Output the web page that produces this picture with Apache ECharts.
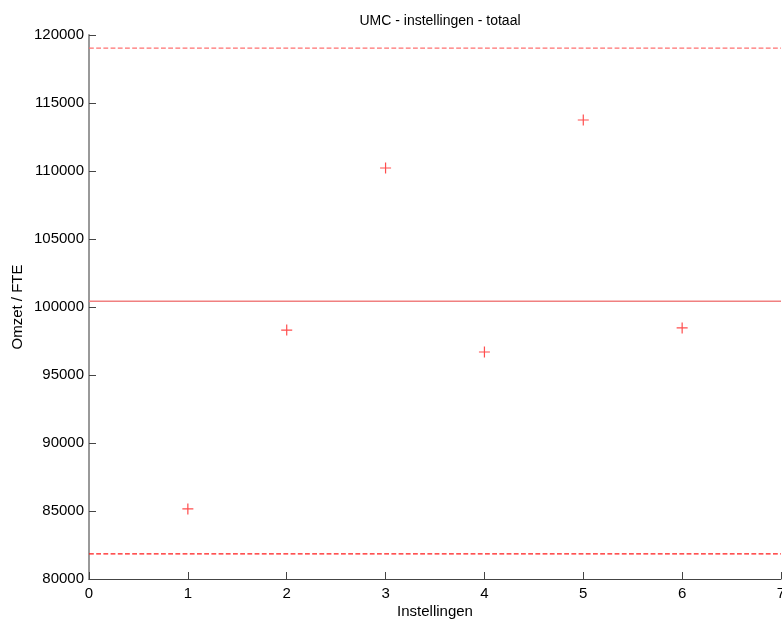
<!DOCTYPE html>
<html>
<head>
<meta charset="utf-8">
<script src="https://cdn.jsdelivr.net/npm/echarts@6/dist/echarts.min.js"></script>
<style>
html,body{margin:0;padding:0;background:#fff;}
#main{width:782px;height:620px;}
</style>
</head>
<body>
<div id="main"></div>
<script>
const instellingen = [1, 2, 3, 4, 5, 6];
const omzetPerFte = [85150, 98300, 110220, 96690, 113750, 98460];
const gemiddelde = 100430;
const bovengrens = 119040;
const ondergrens = 81850;
const xRange = [0, 7];

const plus = 'path://M0,5L10,5M5,0L5,10';

const points = instellingen.map((x, i) => [x, omzetPerFte[i]]);

function hline(v, color, type, width) {
    return {
        type: 'line',
        data: xRange.map(x => [x, v]),
        symbol: 'none',
        silent: true,
        lineStyle: { color: color, width: width, type: type },
        z: 1
    };
}

const chart = echarts.init(document.getElementById('main'));
chart.setOption({
    animation: false,
    textStyle: { fontFamily: 'Liberation Sans, Arial, sans-serif' },
    title: {
        text: 'UMC - instellingen - totaal',
        left: 435,
        textAlign: 'center',
        top: 9,
        textStyle: { fontSize: 14, fontWeight: 'normal', color: '#000' }
    },
    grid: { left: 89, right: 1, top: 35, bottom: 41, containLabel: false, outerBoundsMode: 'none' },
    xAxis: {
        type: 'value',
        min: 0, max: 7, interval: 1,
        name: 'Instellingen',
        nameLocation: 'middle',
        nameGap: 25,
        nameMoveOverlap: false,
        nameTextStyle: { fontSize: 15, color: '#000' },
        axisLine: { lineStyle: { color: '#444', width: 1 } },
        axisTick: { inside: true, length: 7, lineStyle: { color: '#444' } },
        axisLabel: { fontSize: 15, color: '#000', margin: 7 },
        splitLine: { show: false }
    },
    yAxis: {
        type: 'value',
        min: 80000, max: 120000, interval: 5000,
        name: 'Omzet / FTE',
        nameLocation: 'middle',
        nameGap: 64,
        nameMoveOverlap: false,
        nameTextStyle: { fontSize: 15, color: '#000' },
        axisLine: { show: true, lineStyle: { color: '#999', width: 2 } },
        axisTick: { inside: true, length: 7, lineStyle: { color: '#444' } },
        axisLabel: { fontSize: 15, color: '#000', margin: 5, formatter: v => String(v) },
        splitLine: { show: false }
    },
    series: [
        hline(bovengrens, '#ff7070', 'dashed', 1.2),
        hline(gemiddelde, '#f08080', 'solid', 1.5),
        hline(ondergrens, '#ff1a1a', 'dashed', 1.2),
        {
            type: 'scatter',
            data: points,
            symbol: plus,
            symbolSize: 11,
            itemStyle: { color: 'none', borderColor: '#ff2020', borderWidth: 1.2 },
            z: 3
        }
    ]
});
</script>
</body>
</html>
